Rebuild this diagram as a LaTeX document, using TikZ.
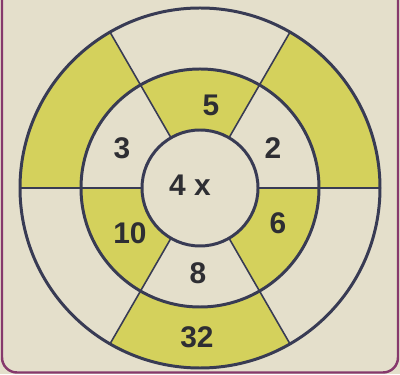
\documentclass[tikz,border=0pt]{standalone}
\usepackage{fontspec}
\setmainfont{Liberation Sans}
\usepackage{xcolor}
\usepackage{tikz}
\usetikzlibrary{positioning}
\definecolor{paper}{HTML}{E4DFCB}
\definecolor{lemon}{HTML}{D4D15C}
\definecolor{ink}{HTML}{383B54}
\definecolor{digit}{HTML}{2E2E33}
\definecolor{edge}{HTML}{86396C}
\tikzstyle{ring} = [draw=ink, line width=1.7pt]
\tikzstyle{spoke} = [draw=ink, line width=0.9pt]
\tikzstyle{num} = [font=\fontsize{17}{19}\selectfont\bfseries, text=digit, inner sep=0pt]

\begin{document}
\begin{tikzpicture}
    \fill[paper] (0,0) rectangle (8,7.48);
    \useasboundingbox (0,0) rectangle (8,7.48);
    \draw[edge, line width=1.4pt, rounded corners=0.3cm] (0.04,0.03) rectangle (7.96,8);
    \coordinate (c) at (4,3.72);
    % yellow sectors, middle ring
    \foreach \a in {60,180,300} {
        \fill[lemon, shift={(c)}] (\a:1.16) -- (\a:2.38) arc[start angle=\a, delta angle=60, radius=2.38]
            -- (\a+60:1.16) arc[start angle=\a+60, delta angle=-60, radius=1.16] -- cycle;
    }
    % yellow sectors, outer ring
    \foreach \a in {0,120,240} {
        \fill[lemon, shift={(c)}] (\a:2.38) -- (\a:3.6) arc[start angle=\a, delta angle=60, radius=3.6]
            -- (\a+60:2.38) arc[start angle=\a+60, delta angle=-60, radius=2.38] -- cycle;
    }
    \foreach \a in {0,60,...,300} {
        \draw[spoke, shift={(c)}] (\a:1.16) -- (\a:3.6);
    }
    \draw[ring] (c) circle[radius=3.6];
    \draw[ring] (c) circle[radius=2.38];
    \draw[ring, fill=paper] (c) circle[radius=1.16];
    \node[num] (times) at (3.80,3.78) {4 x};
    \node[num] (five) at (4.22,5.38) {5};
    \node[num] (two) at (5.46,4.52) {2};
    \node[num] (six) at (5.56,3.02) {6};
    \node[num] (eight) at (3.96,2.02) {8};
    \node[num] (ten) at (2.60,2.82) {10};
    \node[num] (three) at (2.44,4.52) {3};
    \node[num] (total) at (3.94,0.74) {32};
\end{tikzpicture}
\end{document}
